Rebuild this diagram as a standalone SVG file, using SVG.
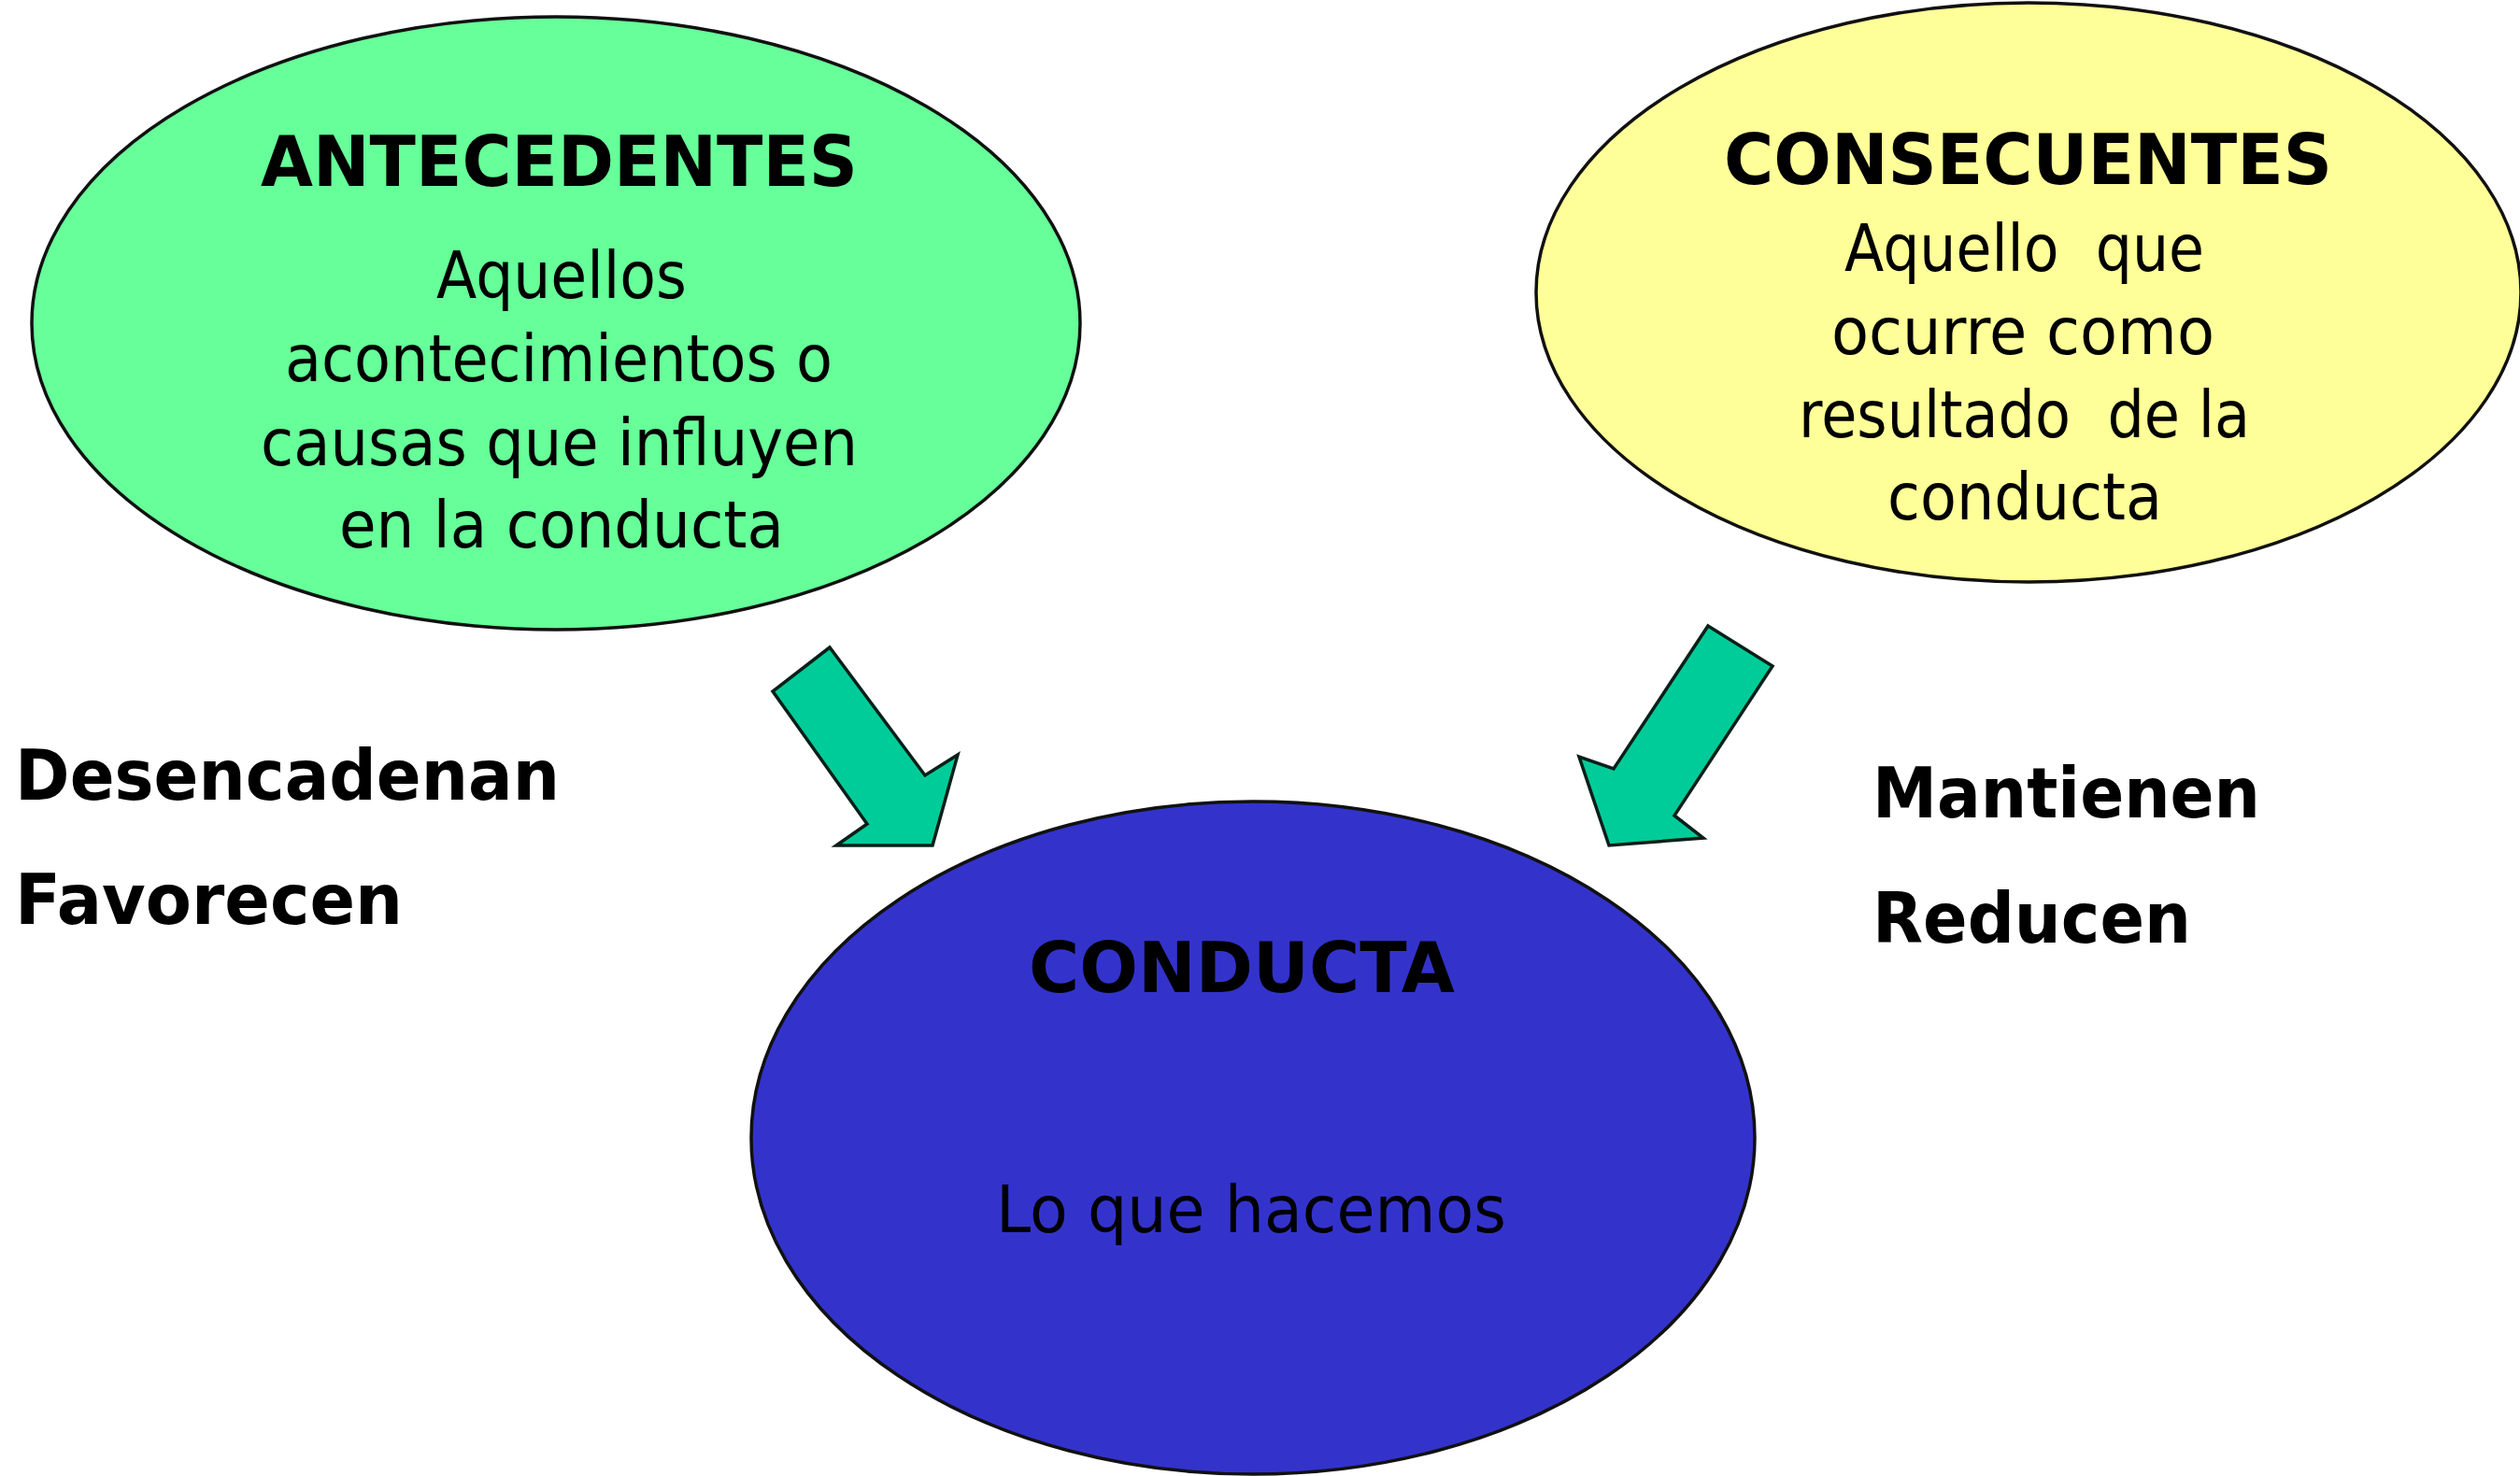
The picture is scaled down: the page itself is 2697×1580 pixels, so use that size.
<svg xmlns="http://www.w3.org/2000/svg" width="2697" height="1580" viewBox="0 0 2697 1580">
<style>
.bg{fill:#ffffff}
.ell{stroke:#111111;stroke-width:3.5}
.title{font-family:"DejaVu Sans","Liberation Sans",sans-serif;font-weight:bold;font-size:75px;fill:#000000}
.body{font-family:"DejaVu Sans","Liberation Sans",sans-serif;font-size:70px;fill:#000000}
.side{font-family:"DejaVu Sans","Liberation Sans",sans-serif;font-weight:bold;font-size:75px;fill:#000000}
.arrow{fill:#00CC99;stroke:#0a1f19;stroke-width:3.5;stroke-linejoin:miter}
</style>
<rect class="bg" x="0" y="0" width="2697" height="1580"/>
<g id="connectors">
  <polygon class="arrow" points="888,693 827,740 928,882 895,905 998,905 1025,808 990,830"/>
  <polygon class="arrow" points="1828,670 1897,713 1792,873 1823,897 1722,905 1690,810 1727,823"/>
</g>
<g id="antecedentes">
  <ellipse class="ell" cx="595" cy="346" rx="561" ry="328" fill="#66FF99"/>
  <text class="title" x="279" y="199" textLength="639" lengthAdjust="spacingAndGlyphs">ANTECEDENTES</text>
  <text class="body" x="467" y="319" textLength="268" lengthAdjust="spacingAndGlyphs">Aquellos</text>
  <text class="body" x="305" y="408" textLength="586" lengthAdjust="spacingAndGlyphs">acontecimientos o</text>
  <text class="body" x="279" y="498" textLength="639" lengthAdjust="spacingAndGlyphs">causas que influyen</text>
  <text class="body" x="363" y="586" textLength="476" lengthAdjust="spacingAndGlyphs">en la conducta</text>
</g>
<g id="consecuentes">
  <ellipse class="ell" cx="2171" cy="313" rx="527" ry="310" fill="#FFFF99"/>
  <text class="title" x="1845" y="197" textLength="651" lengthAdjust="spacingAndGlyphs">CONSECUENTES</text>
  <text class="body" x="1974" y="290" textLength="385" lengthAdjust="spacingAndGlyphs" xml:space="preserve">Aquello  que</text>
  <text class="body" x="1960" y="379" textLength="410" lengthAdjust="spacingAndGlyphs">ocurre como</text>
  <text class="body" x="1925" y="468" textLength="483" lengthAdjust="spacingAndGlyphs" xml:space="preserve">resultado  de la</text>
  <text class="body" x="2020" y="556" textLength="294" lengthAdjust="spacingAndGlyphs">conducta</text>
</g>
<g id="conducta">
  <ellipse class="ell" cx="1341" cy="1218" rx="537" ry="360" fill="#3333CC"/>
  <text class="title" x="1101" y="1062" textLength="456" lengthAdjust="spacingAndGlyphs">CONDUCTA</text>
  <text class="body" x="1066" y="1319" textLength="546" lengthAdjust="spacingAndGlyphs">Lo que hacemos</text>
</g>
<g id="label-antecedentes">
  <text class="side" x="16" y="856" textLength="583" lengthAdjust="spacingAndGlyphs">Desencadenan</text>
  <text class="side" x="16" y="989" textLength="415" lengthAdjust="spacingAndGlyphs">Favorecen</text>
</g>
<g id="label-consecuentes">
  <text class="side" x="2004" y="875" textLength="415" lengthAdjust="spacingAndGlyphs">Mantienen</text>
  <text class="side" x="2004" y="1009" textLength="341" lengthAdjust="spacingAndGlyphs">Reducen</text>
</g>
</svg>
